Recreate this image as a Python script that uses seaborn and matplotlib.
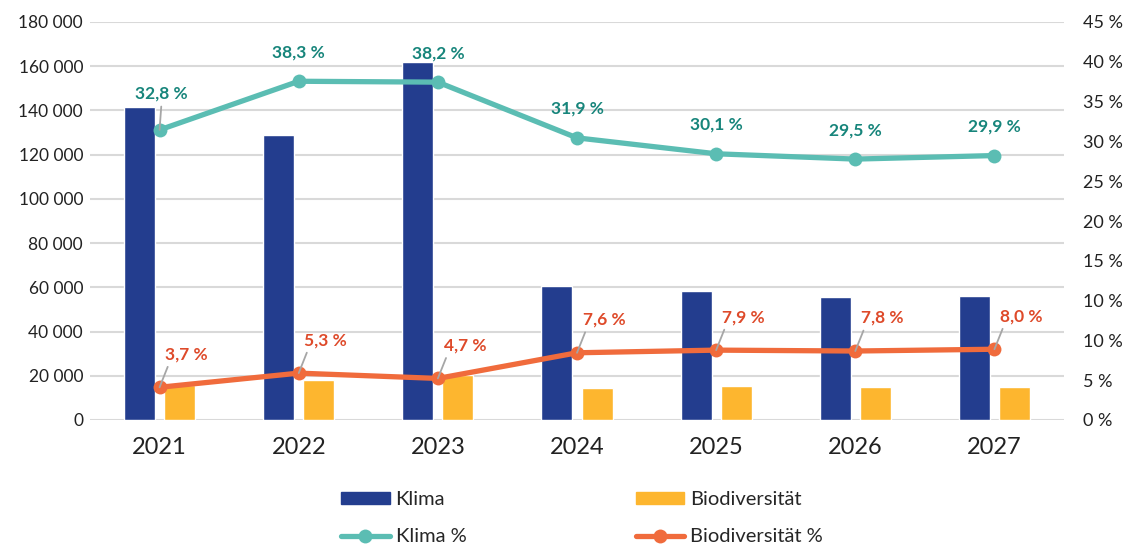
import numpy as np
import pandas as pd
import seaborn as sns
import matplotlib.pyplot as plt
from matplotlib.ticker import FuncFormatter, FixedLocator
from matplotlib.patches import Patch
from matplotlib.lines import Line2D

# Data
years = ["2021", "2022", "2023", "2024", "2025", "2026", "2027"]
klima = [141600, 129000, 162000, 60600, 58400, 55700, 56100]
biodiv = [15800, 18100, 20400, 14500, 15400, 14900, 14900]
klima_pct = [32.8, 38.3, 38.2, 31.9, 30.1, 29.5, 29.9]
biodiv_pct = [3.7, 5.3, 4.7, 7.6, 7.9, 7.8, 8.0]
right_tick_labels = ["0 %", "5 %", "10 %", "10 %", "15 %", "20 %",
                     "25 %", "30 %", "35 %", "40 %", "45 %"]

# colours
c_klima = "#233d8e"
c_bio = "#fdb62f"
c_klima_line = "#5bbdb3"
c_bio_line = "#f06b3c"
c_klima_txt = "#17857b"
c_bio_txt = "#de4a2a"
grid_col = "#d9d9d9"

sns.set_theme(style="white")
plt.rcParams["font.family"] = ["Lato", "DejaVu Sans"]

bars = pd.DataFrame({"year": years * 2,
                     "value": klima + biodiv,
                     "series": ["Klima"] * len(years) + ["Biodiversität"] * len(years)})
pos = np.arange(len(years))
lines = pd.DataFrame({"pos": np.concatenate([pos, pos]),
                      "pct": klima_pct + biodiv_pct,
                      "series": ["Klima %"] * len(years) + ["Biodiversität %"] * len(years)})

fig = plt.figure(figsize=(11.3, 5.47), dpi=100)
ax = fig.add_axes([90 / 1130, 1 - 420 / 547, (1064 - 90) / 1130, (420 - 22) / 547])

sns.barplot(data=bars, x="year", y="value", hue="series", ax=ax,
            palette={"Klima": c_klima, "Biodiversität": c_bio},
            width=0.576, gap=0.226, saturation=1, legend=False, zorder=2)
ax.set_ylim(0, 180000)
ax.set_xlim(-0.5, len(years) - 0.5)
ax.yaxis.set_major_locator(FixedLocator(np.arange(0, 180001, 20000)))
ax.yaxis.set_major_formatter(FuncFormatter(lambda v, p: f"{int(v):,}".replace(",", " ")))
ax.grid(axis="y", color=grid_col, linewidth=1.5, zorder=0)
ax.set_axisbelow(True)
ax.set_xlabel("")
ax.set_ylabel("")
ax.tick_params(axis="y", labelsize=12.5, length=0, pad=5, labelcolor="#222222")
ax.tick_params(axis="x", labelsize=17, length=0, pad=12, labelcolor="#222222")
for s in ax.spines.values():
    s.set_visible(False)

ax2 = ax.twinx()
sns.lineplot(data=lines, x="pos", y="pct", hue="series", ax=ax2,
             palette={"Klima %": c_klima_line, "Biodiversität %": c_bio_line},
             marker="o", markersize=10, markeredgewidth=0, linewidth=3.8,
             legend=False, zorder=3)
ax2.set_ylim(0, 45)
ax2.set_xlim(-0.5, len(years) - 0.5)
ax2.yaxis.set_major_locator(FixedLocator(np.linspace(0, 45, len(right_tick_labels))))
ax2.set_yticklabels(right_tick_labels)
ax2.tick_params(axis="y", labelsize=13, length=0, pad=14, labelcolor="#222222")
ax2.set_xlabel("")
ax2.set_ylabel("")
ax2.grid(False)
for s in ax2.spines.values():
    s.set_visible(False)

def fmt(v):
    return f"{v:.1f} %".replace(".", ",")

leader = dict(arrowstyle="-", color="#a6a6a6", lw=1.3, shrinkA=1, shrinkB=0)

for i, v in enumerate(klima_pct):
    if i == 0:
        ax2.annotate(fmt(v), (pos[i], v), xytext=(2, 36), textcoords="offset pixels",
                     ha="center", va="center", fontsize=12.5, fontweight="bold",
                     color=c_klima_txt,
                     arrowprops=dict(leader, relpos=(0.5, 0.0)))
    else:
        ax2.annotate(fmt(v), (pos[i], v), xytext=(0, 29), textcoords="offset pixels",
                     ha="center", va="center", fontsize=12.5, fontweight="bold",
                     color=c_klima_txt)

for i, v in enumerate(biodiv_pct):
    ax2.annotate(fmt(v), (pos[i], v), xytext=(27, 33), textcoords="offset pixels",
                 ha="center", va="center", fontsize=12.5, fontweight="bold",
                 color=c_bio_txt,
                 arrowprops=dict(leader, relpos=(0.1, 0.0)))

handles = [Patch(color=c_klima, label="Klima"),
           Line2D([], [], color=c_klima_line, lw=3.8, marker="o", markersize=10,
                  markeredgewidth=0, label="Klima %"),
           Patch(color=c_bio, label="Biodiversität"),
           Line2D([], [], color=c_bio_line, lw=3.8, marker="o", markersize=10,
                  markeredgewidth=0, label="Biodiversität %")]
fig.legend(handles=handles, ncol=2, loc="center", bbox_to_anchor=(0.515, 0.053),
           frameon=False, fontsize=14.5, handlelength=2.4, handleheight=0.5,
           handletextpad=0.3, columnspacing=8.4, labelspacing=1.0, borderpad=0)

fig.savefig("out.png", dpi=100)
